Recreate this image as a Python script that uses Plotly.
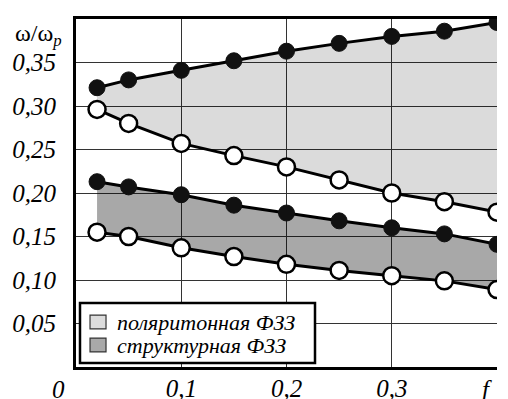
import plotly.graph_objects as go

# ---- data ----
f_vals = [0.02, 0.05, 0.10, 0.15, 0.20, 0.25, 0.30, 0.35, 0.40]
polar_upper = [0.321, 0.330, 0.341, 0.352, 0.363, 0.372, 0.380, 0.386, 0.396]
polar_lower = [0.296, 0.280, 0.257, 0.243, 0.230, 0.215, 0.200, 0.190, 0.178]
struct_upper = [0.213, 0.207, 0.198, 0.186, 0.177, 0.168, 0.160, 0.153, 0.141]
struct_lower = [0.155, 0.150, 0.137, 0.127, 0.118, 0.111, 0.105, 0.099, 0.089]

x_tickvals = [0.1, 0.2, 0.3]
x_ticktext = ["0,1", "0,2", "0,3"]
y_tickvals = [0.05, 0.10, 0.15, 0.20, 0.25, 0.30, 0.35]
y_ticktext = ["0,05", "0,10", "0,15", "0,20", "0,25", "0,30", "0,35"]
legend_names = ["поляритонная ФЗЗ", "структурная ФЗЗ"]

LIGHT = "rgba(0,0,0,0.14)"
DARK = "rgba(0,0,0,0.34)"
LIGHT_SOLID = "#dcdcdc"
DARK_SOLID = "#a9a9a9"
serif = "Liberation Serif"

fig = go.Figure()

# band fills
fig.add_trace(go.Scatter(
    x=f_vals + f_vals[::-1], y=polar_upper + polar_lower[::-1], name=legend_names[0],
    fill="toself", fillcolor=LIGHT, mode="none", showlegend=False, hoverinfo="skip"))
fig.add_trace(go.Scatter(
    x=f_vals + f_vals[::-1], y=struct_upper + struct_lower[::-1], name=legend_names[1],
    fill="toself", fillcolor=DARK, mode="none", showlegend=False, hoverinfo="skip"))

# curves
for ys in (polar_upper, struct_upper):
    fig.add_trace(go.Scatter(
        x=f_vals, y=ys, mode="lines+markers", showlegend=False,
        line=dict(color="black", width=3),
        marker=dict(size=16, color="#111111", line=dict(color="#111111", width=1))))
for ys in (polar_lower, struct_lower):
    fig.add_trace(go.Scatter(
        x=f_vals, y=ys, mode="lines+markers", showlegend=False,
        line=dict(color="black", width=3),
        marker=dict(size=17, color="white", line=dict(color="black", width=2.5))))

# legend (box with swatches, paper coordinates)
fig.add_shape(type="rect", xref="paper", yref="paper", x0=0.0095, x1=0.5677, y0=0.0115, y1=0.1839,
              line=dict(color="black", width=2.5), fillcolor="white", layer="above")
legend_rows = [(0.1293, LIGHT_SOLID), (0.0632, DARK_SOLID)]
for name, (yc, col) in zip(legend_names, legend_rows):
    fig.add_shape(type="rect", xref="paper", yref="paper", x0=0.0333, x1=0.0713,
                  y0=yc - 0.02, y1=yc + 0.02, line=dict(color="#333", width=1.2),
                  fillcolor=col, layer="above")
    fig.add_annotation(x=0.0926, y=yc, xref="paper", yref="paper", text=name,
                       xanchor="left", yanchor="middle", showarrow=False,
                       font=dict(family=serif, size=22, color="black", style="italic"))

fig.update_layout(
    width=508, height=399,
    margin=dict(l=76, r=11, t=19, b=32, autoexpand=False),
    paper_bgcolor="white", plot_bgcolor="white",
    showlegend=False,
    xaxis=dict(
        range=[0, 0.4], tickvals=x_tickvals + [0.4], ticktext=x_ticktext + [""],
        showgrid=True, gridcolor="#333", gridwidth=1.2, zeroline=False,
        showline=True, linecolor="black", linewidth=3, mirror=True,
        ticks="", ticklabelstandoff=-3, automargin=False,
        tickfont=dict(family=serif, size=25, color="black", style="italic"),
    ),
    yaxis=dict(
        range=[0, 0.4], tickvals=y_tickvals + [0.4], ticktext=y_ticktext + [""],
        showgrid=True, gridcolor="#333", gridwidth=1.2, zeroline=False,
        showline=True, linecolor="black", linewidth=3, mirror=False,
        ticks="", ticklabelstandoff=12, automargin=False,
        tickfont=dict(family=serif, size=25, color="black", style="italic"),
    ),
)

fig.add_annotation(x=0, y=0, xref="paper", yref="paper", text="0",
                   xanchor="right", yanchor="top", xshift=-9, yshift=-7, showarrow=False,
                   font=dict(family=serif, size=25, color="black", style="italic"))
fig.add_annotation(x=0.4, y=0, xref="x", yref="paper", text="f",
                   xanchor="center", yanchor="top", xshift=-10, yshift=-7, showarrow=False,
                   font=dict(family=serif, size=25, color="black", style="italic"))
fig.add_annotation(x=0, y=0.382, xref="paper", yref="y", text="ω/ω<sub><i>p</i></sub>",
                   xanchor="right", yanchor="middle", xshift=-12, showarrow=False,
                   font=dict(family=serif, size=24, color="black"))

fig.write_html("out.html")
